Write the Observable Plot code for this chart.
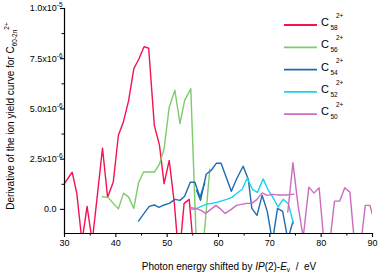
<!DOCTYPE html>
<html><head><meta charset="utf-8">
<script src="https://cdn.jsdelivr.net/npm/d3@7"></script>
<script src="https://cdn.jsdelivr.net/npm/@observablehq/plot@0.6"></script>
<style>
html,body{margin:0;padding:0;background:#fff;}
#chart svg{display:block;}
</style></head><body><div id="chart"></div>
<script>
// Series (values in units of 1e-6)
const seriesNames = ["C58","C56","C54","C52","C50"];
const legendSub = ["58","56","54","52","50"];
const colors = ["#f4124f","#7ecb6c","#1d6cb3","#18d2ef","#cc6cbf"];

const c58x = [30.0,31.5,32.4,33.4,34.4,35.4,36.4,37.4,38.4,39.5,40.5,41.5,42.5,43.5,44.5,45.5,46.4,47.5,48.5,49.4,50.4,51.4,52.3,53.3,54.3,55.3];
const c58y = [1.3,1.85,0.8,-1.6,0.15,-1.6,0.7,3.05,0.6,1.36,3.69,4.38,5.43,7.0,7.5,8.1,8.02,4.18,3.2,1.28,2.44,0.3,-2.5,0.3,0.5,-2.5];

const c56x = [37.4,38.5,39.5,40.5,41.5,42.5,43.5,44.4,45.4,46.5,47.5,48.5,49.4,50.4,51.5,52.5,53.4,54.6,55.8,56.8,58.3];
const c56y = [0.63,0.6,0.3,0.03,0.81,0.61,0.05,1.31,1.86,1.86,1.86,2.25,3.02,5.09,5.93,4.27,5.43,6.0,-2.5,-2.5,2.0];

const c54aX = [44.4,45.5,46.5,47.5,48.4,49.4,50.4,51.5,52.5,53.4,54.5,55.4,56.4,57.3];
const c54aY = [-0.58,-0.2,0.15,0.22,0.1,0.22,0.3,0.5,0.45,0.65,1.35,1.35,0.6,1.3];
const c54bX = [55.7,56.5,57.6,58.6,59.6,60.5,61.5,62.5,63.5,64.8,65.8,66.5,67.5,68.5,69.5,70.5,71.5,72.5,73.5,74.5];
const c54bY = [0.95,0.45,1.75,1.95,2.3,2.3,1.6,0.9,1.5,2.15,1.5,0.05,-0.3,0.7,-0.1,-1.6,0.05,-0.1,-1.5,-0.6];

const c52x = [54.6,55.6,56.6,57.6,58.6,59.6,60.6,61.6,62.6,63.6,64.6,65.6,66.6,67.6,68.7,69.6,70.6,71.6,72.6,73.6,74.6];
const c52y = [0.0,0.02,0.15,0.25,0.3,0.35,0.42,0.5,0.6,0.8,1.0,1.55,1.0,0.85,1.52,1.0,0.6,0.12,0.5,0.28,-0.7];

const c50aX = [54.6,55.6,56.6,57.5,58.5,59.5,60.5,61.3,62.5,63.5,64.5,65.5,66.5,67.5,68.5,69.5,70.5,71.5,72.5,73.5,74.7];
const c50aY = [0.08,0.05,-0.05,-0.2,0.0,0.2,0.0,-0.2,0.0,0.2,0.25,0.3,0.3,0.5,0.82,0.7,0.75,0.72,0.72,0.72,0.76];
const c50bX = [73.5,74.5,75.5,76.5,77.6,78.6,79.6,80.6,81.6,82.6,83.6,84.6,85.6,86.6,87.6,88.6,89.5,90.3];
const c50bY = [-0.13,2.33,0.2,-1.4,1.11,0.81,1.08,-1.8,-1.8,0.41,0.41,1.08,0.86,-2.0,-2.0,0.2,0.2,-0.55];

const xTicks = [30,40,50,60,70,80,90];
const xMinor = [35,45,55,65,75,85];
const yTicks = [0,2.5e-6,5e-6,7.5e-6,1e-5];
const yTickMant = ["0.0","2.5","5.0","7.5","1.0"];
const yTickExp = [null,"-6","-6","-6","-5"];
const yMinor = [1.25e-6,3.75e-6,6.25e-6,8.75e-6];

function seg(name, part, xs, ys){ return xs.map((x,i)=>({series:name, part, x, y: ys[i]*1e-6})); }
const data = [
  ...seg("C58","a",c58x,c58y),
  ...seg("C56","a",c56x,c56y),
  ...seg("C54","a",c54aX,c54aY),
  ...seg("C54","b",c54bX,c54bY),
  ...seg("C52","a",c52x,c52y),
  ...seg("C50","a",c50aX,c50aY),
  ...seg("C50","b",c50bX,c50bY)
];

const FONT = "'Liberation Sans', Arial, Helvetica, sans-serif";

const plot = Plot.plot({
  width:380, height:276,
  marginLeft:64, marginRight:8, marginTop:8, marginBottom:43,
  style:{fontFamily:FONT, fontSize:"9px", background:"#fff", color:"#000", overflow:"visible"},
  x:{domain:[30,90]},
  y:{domain:[-1.2e-6,1e-5]},
  color:{domain:seriesNames, range:colors},
  marks:[
    Plot.line(data,{x:"x", y:"y", z:d=>d.series+d.part, stroke:"series", strokeWidth:1.4, clip:true}),
    Plot.frame({anchor:"left", stroke:"#000", strokeWidth:1.2}),
    Plot.frame({anchor:"bottom", stroke:"#000", strokeWidth:1.2}),
    Plot.axisX({ticks:xTicks, tickSize:4, tickPadding:2, label:null, fontSize:9, strokeWidth:1.1}),
    Plot.axisX({ticks:xMinor, tickSize:2.5, tickFormat:()=>"", label:null}),
    Plot.axisY({ticks:yTicks, tickSize:4, tickPadding:4, tickFormat:d=>yTickMant[yTicks.indexOf(d)], label:null, fontSize:9, strokeWidth:1.1}),
    Plot.axisY({ticks:yMinor, tickSize:2.5, tickFormat:()=>"", label:null})
  ]
});
document.getElementById("chart").appendChild(plot);

const svg = d3.select(plot);
const NS = "http://www.w3.org/2000/svg";

// superscripts on y tick labels
svg.selectAll('[aria-label="y-axis tick label"] text').each(function(){
  const t = this.textContent;
  const i = yTickMant.indexOf(t);
  if (i < 0) return;
  const exp = yTickExp[i];
  if (!exp) return;
  this.textContent = t + "x10";
  const ts = document.createElementNS(NS,"tspan");
  ts.setAttribute("dy","-4");
  ts.setAttribute("font-size","6.5");
  ts.textContent = exp;
  this.appendChild(ts);
  this.setAttribute("transform", (this.getAttribute("transform")||"") + " translate(6,0)");
});

// x-axis title
const xt = svg.append("text")
  .attr("x",229).attr("y",270)
  .attr("text-anchor","middle")
  .attr("font-family",FONT).attr("font-size",10).attr("fill","#000")
  .style("white-space","pre");
xt.append("tspan").text("Photon energy shifted by ");
xt.append("tspan").attr("font-style","italic").text("IP");
xt.append("tspan").text("(2)-");
xt.append("tspan").attr("font-style","italic").text("E");
xt.append("tspan").attr("font-size",6.5).attr("dy",2).text("v");
xt.append("tspan").attr("dy",-2).text("  /  eV");

// y-axis title
const yt = svg.append("text")
  .attr("transform","translate(14,116) rotate(-90)")
  .attr("text-anchor","middle")
  .attr("font-family",FONT).attr("font-size",10).attr("fill","#000");
yt.append("tspan").text("Derivative of the ion yield curve for C");
yt.append("tspan").attr("font-size",6.5).attr("dy",2.5).text("60-2n");
yt.append("tspan").attr("font-size",6.5).attr("dy",-8).text("2+");

// legend
const lg = svg.append("g").attr("font-family",FONT).attr("fill","#000").attr("text-anchor","start");
seriesNames.forEach((s,i)=>{
  const y = 25 + i*22.3;
  lg.append("line").attr("x1",284).attr("x2",317).attr("y1",y).attr("y2",y)
    .attr("stroke",colors[i]).attr("stroke-width",1.8);
  const t = lg.append("text").attr("x",321).attr("y",y+1).attr("font-size",11).attr("text-anchor","start");
  t.append("tspan").text("C");
  t.append("tspan").attr("font-size",6.5).attr("dx",1.5).attr("dy",4).text(legendSub[i]);
  lg.append("text").attr("x",336).attr("y",y-7).attr("font-size",6.5).attr("text-anchor","start").text("2+");
});
</script>
</body></html>
